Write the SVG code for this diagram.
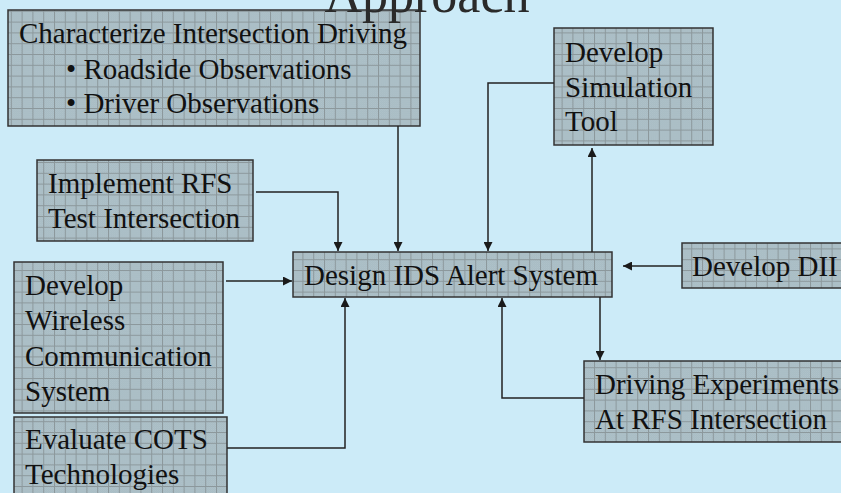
<svg xmlns="http://www.w3.org/2000/svg" width="841" height="493" viewBox="0 0 841 493">
<defs>
<pattern id="checker" width="2" height="2" patternUnits="userSpaceOnUse">
<rect width="2" height="2" fill="#A6BAC2"/>
<rect width="1" height="1" fill="#B0C3CA"/>
<rect x="1" y="1" width="1" height="1" fill="#B0C3CA"/>
</pattern>
<pattern id="grid" width="10.8" height="10.8" patternUnits="userSpaceOnUse">
<rect width="10.8" height="10.8" fill="url(#checker)"/>
<path d="M0 0.5H10.8M0.5 0V10.8" stroke="#8C989C" stroke-width="1" fill="none"/>
</pattern>
<marker id="arr" viewBox="0 0 10 10" refX="10" refY="5" markerWidth="9" markerHeight="9" markerUnits="userSpaceOnUse" orient="auto">
<path d="M0 0L10 5L0 10Z" fill="#1A1A1A"/>
</marker>
<style>
.box{fill:url(#grid);stroke:#333;stroke-width:1.5}
.t{font-family:"Liberation Serif","Times New Roman",serif;font-size:29px;fill:#111}
.c{fill:none;stroke:#222;stroke-width:1.5;marker-end:url(#arr)}
.l{fill:none;stroke:#222;stroke-width:1.5}
</style>
</defs>
<rect width="841" height="493" fill="#CCEBF8"/>

<g id="characterize">
<rect class="box" x="8" y="10" width="412" height="116"/>
<text class="t" x="19" y="43">Characterize Intersection Driving</text>
<text class="t" x="66" y="79">• Roadside Observations</text>
<text class="t" x="66" y="113">• Driver Observations</text>
</g>
<g id="simulation">
<rect class="box" x="554" y="28" width="159" height="117"/>
<text class="t" x="565" y="62">Develop</text>
<text class="t" x="565" y="97">Simulation</text>
<text class="t" x="565" y="131">Tool</text>
</g>
<g id="implement">
<rect class="box" x="37" y="160" width="216" height="81"/>
<text class="t" x="48" y="193">Implement RFS</text>
<text class="t" x="48" y="228">Test Intersection</text>
</g>
<g id="design">
<rect class="box" x="293" y="252" width="319" height="45"/>
<text class="t" x="304" y="285">Design IDS Alert System</text>
</g>
<g id="dii">
<rect class="box" x="682" y="243" width="160" height="45"/>
<text class="t" x="692" y="276">Develop DII</text>
</g>
<g id="wireless">
<rect class="box" x="14" y="262" width="209" height="151"/>
<text class="t" x="25" y="295">Develop</text>
<text class="t" x="25" y="330">Wireless</text>
<text class="t" x="25" y="366">Communication</text>
<text class="t" x="25" y="401">System</text>
</g>
<g id="cots">
<rect class="box" x="14" y="417" width="213" height="90"/>
<text class="t" x="25" y="449">Evaluate COTS</text>
<text class="t" x="25" y="484">Technologies</text>
</g>
<g id="experiments">
<rect class="box" x="584" y="361" width="270" height="81"/>
<text class="t" x="595" y="394">Driving Experiments</text>
<text class="t" x="595" y="429">At RFS Intersection</text>
</g>

<g id="connectors">
<path class="c" d="M398 126V251"/>
<path class="c" d="M256 192H338V251"/>
<path class="c" d="M226 281H292"/>
<path class="c" d="M227 448H345V298"/>
<path class="c" d="M554 83H488V251"/>
<path class="c" d="M592 252V148"/>
<path class="c" d="M682 266H623"/>
<path class="c" d="M600 297V360"/>
<path class="c" d="M584 398H502V298"/>
</g>

<text x="427" y="12" text-anchor="middle" font-family="'Liberation Serif','Times New Roman',serif" font-size="52" fill="#2A2A2A">Approach</text>
<text x="792" y="509" font-family="'Liberation Serif','Times New Roman',serif" font-size="22" fill="#111">22</text>
</svg>
